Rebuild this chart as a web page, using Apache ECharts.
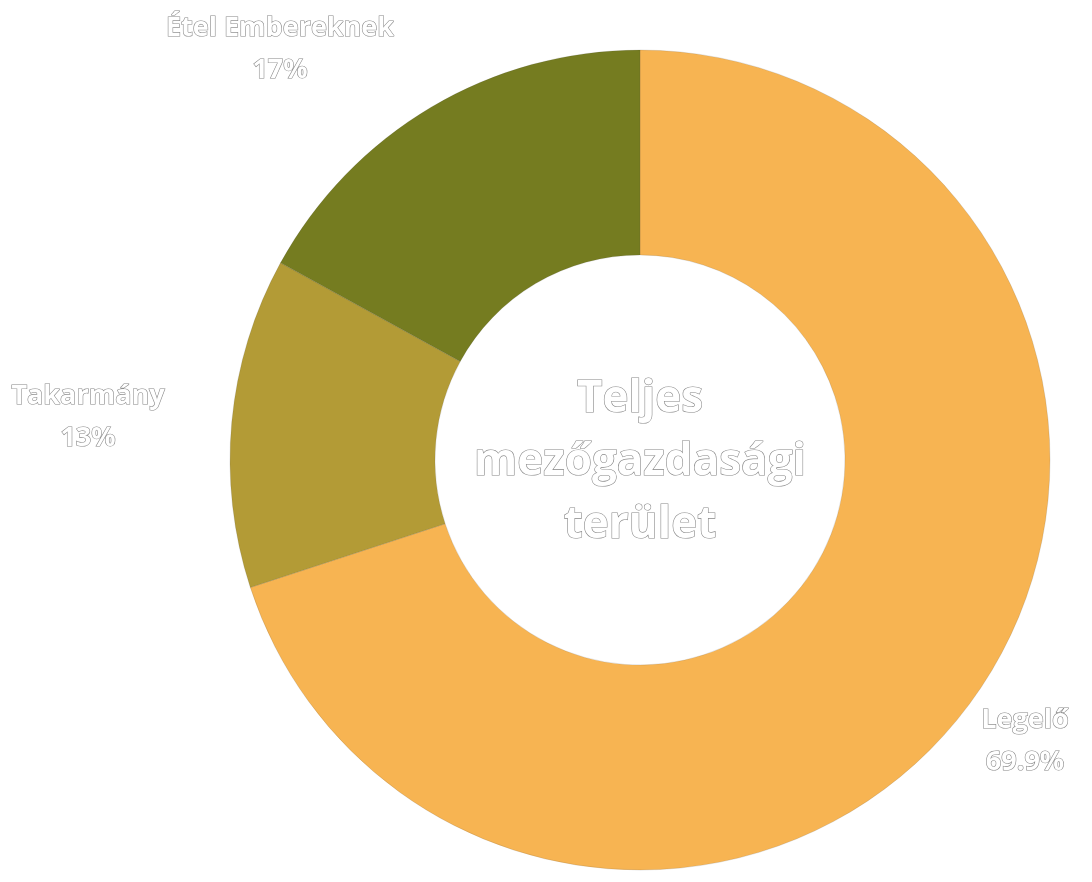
<!DOCTYPE html>
<html>
<head>
<meta charset="utf-8">
<script src="https://cdn.jsdelivr.net/npm/echarts@6/dist/echarts.min.js"></script>
<style>html,body{margin:0;padding:0;background:#fff}#c{width:1092px;height:882px}</style>
</head>
<body>
<div id="c"></div>
<script>
const categories = ['Legelő', 'Takarmány', 'Étel Embereknek'];
const values = [69.9, 13, 17];
const colors = ['#F7B452', '#B39B36', '#757C20'];
const centerTitle = 'Teljes\nmezőgazdasági\nterület';
// label anchor points (layout only)
const labelAnchors = [[1025, 741], [88, 417], [280, 49]];

const chart = echarts.init(document.getElementById('c'));
chart.setOption({
  animation: false,
  title: {
    text: centerTitle,
    left: 635, top: 457,
    textAlign: 'center', textVerticalAlign: 'middle',
    textStyle: {
      color: '#ffffff', fontFamily: 'Open Sans', fontWeight: 'bold',
      fontSize: 44, lineHeight: 63,
      textBorderColor: '#888888', textBorderWidth: 1.2
    }
  },
  series: [{
    type: 'pie',
    center: [640, 460],
    radius: [205, 410],
    startAngle: 90,
    clockwise: true,
    avoidLabelOverlap: false,
    label: {
      show: true,
      position: 'outside',
      formatter: p => p.name + '\n' + p.value + '%',
      color: '#ffffff',
      fontFamily: 'Open Sans',
      fontWeight: 'bold',
      fontSize: 27,
      lineHeight: 42,
      textBorderColor: '#888888',
      textBorderWidth: 1.2,
      align: 'center'
    },
    labelLine: { show: false },
    labelLayout: p => ({
      x: labelAnchors[p.dataIndex][0],
      y: labelAnchors[p.dataIndex][1],
      align: 'center',
      verticalAlign: 'middle'
    }),
    itemStyle: { borderColor: 'rgba(60,60,60,0.35)', borderWidth: 0.4 },
    data: categories.map((c, i) => ({ name: c, value: values[i], itemStyle: { color: colors[i] } }))
  }]
});
</script>
</body>
</html>
